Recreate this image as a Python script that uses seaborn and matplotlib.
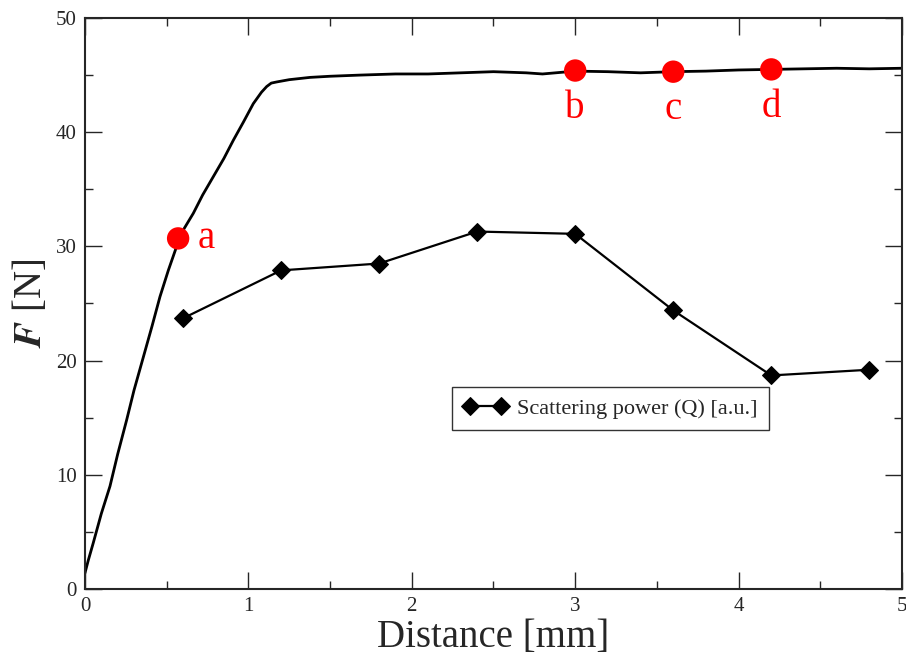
import matplotlib
matplotlib.use("Agg")
import pandas as pd
import seaborn as sns
import matplotlib.pyplot as plt
from matplotlib.ticker import MultipleLocator

# force curve
dist = [0.0, 0.02, 0.05, 0.1, 0.153, 0.2, 0.255, 0.3, 0.357, 0.41, 0.459, 0.51, 0.561, 0.6,
        0.663, 0.72, 0.785, 0.85, 0.908, 0.97, 1.03, 1.08, 1.112, 1.14, 1.173, 1.25, 1.377,
        1.5, 1.68, 1.9, 2.1, 2.3, 2.5, 2.7, 2.8, 3.0, 3.2, 3.4, 3.6, 3.8, 4.0, 4.2, 4.4,
        4.6, 4.8, 5.0]
force = [1.4, 2.5, 4.0, 6.6, 9.0, 11.8, 14.8, 17.4, 20.3, 23.0, 25.6, 27.9, 30.0, 31.4,
         32.9, 34.5, 36.1, 37.7, 39.3, 40.9, 42.5, 43.5, 44.0, 44.3, 44.4, 44.6, 44.8,
         44.9, 45.0, 45.1, 45.1, 45.2, 45.3, 45.2, 45.1, 45.35, 45.3, 45.2, 45.3, 45.35,
         45.45, 45.5, 45.55, 45.6, 45.55, 45.6]

# scattering power
q_dist = [0.6, 1.2, 1.8, 2.4, 3.0, 3.6, 4.2, 4.8]
q_val = [23.7, 27.9, 28.5, 31.3, 31.1, 24.4, 18.7, 19.2]

# marked points
mark_lbl = ["a", "b", "c", "d"]
mark_x = [0.57, 3.0, 3.6, 4.2]
mark_y = [30.7, 45.4, 45.3, 45.5]

sns.set_style("ticks")
plt.rcParams['font.family'] = ['Liberation Serif', 'DejaVu Serif']
plt.rcParams['mathtext.fontset'] = 'stix'

fig = plt.figure(figsize=(9.06, 6.55), dpi=100)
ax = fig.add_axes([0.0938, 0.1008, 0.9018, 0.8717])

df_f = pd.DataFrame({'x': dist, 'y': force})
sns.lineplot(data=df_f, x='x', y='y', ax=ax, color='black', linewidth=2.0, legend=False)

df_q = pd.DataFrame({'x': q_dist, 'y': q_val})
sns.lineplot(data=df_q, x='x', y='y', ax=ax, color='black', linewidth=1.6,
             marker='D', markersize=9, markeredgecolor='black',
             label='Scattering power (Q) [a.u.]')

df_m = pd.DataFrame({'x': mark_x, 'y': mark_y})
sns.scatterplot(data=df_m, x='x', y='y', ax=ax, color='red', s=260, edgecolor='none',
                marker='o', zorder=5, legend=False)
for lbl, mx, my in zip(mark_lbl, mark_x, mark_y):
    if lbl == 'a':
        ax.text(mx + 0.12, my, lbl, color='red', fontsize=28, ha='left', va='center')
    else:
        ax.text(mx, my - 1.7, lbl, color='red', fontsize=28, ha='center', va='top')

ax.set_xlim(0, 5)
ax.set_ylim(0, 50)
ax.xaxis.set_major_locator(MultipleLocator(1))
ax.xaxis.set_minor_locator(MultipleLocator(0.5))
ax.yaxis.set_major_locator(MultipleLocator(10))
ax.yaxis.set_minor_locator(MultipleLocator(5))
ax.tick_params(which='both', direction='in', top=True, right=True, labelsize=15, width=1.0)
ax.tick_params(which='major', length=12, pad=6)
ax.tick_params(which='minor', length=6)
for s in ax.spines.values():
    s.set_linewidth(1.5)

ax.set_xlabel('Distance [mm]', fontsize=28, labelpad=2)
ax.set_ylabel(r'$\boldsymbol{F}$ [N]', fontsize=28, labelpad=4)

leg = ax.legend(loc='upper left', bbox_to_anchor=(0.449, 0.354), fontsize=16,
                frameon=True, fancybox=False, handlelength=2.0, borderpad=0.5,
                handletextpad=0.45, numpoints=2, borderaxespad=0)
leg.get_frame().set_edgecolor('black')
leg.get_frame().set_linewidth(1.0)

fig.savefig('out.png', dpi=100)
